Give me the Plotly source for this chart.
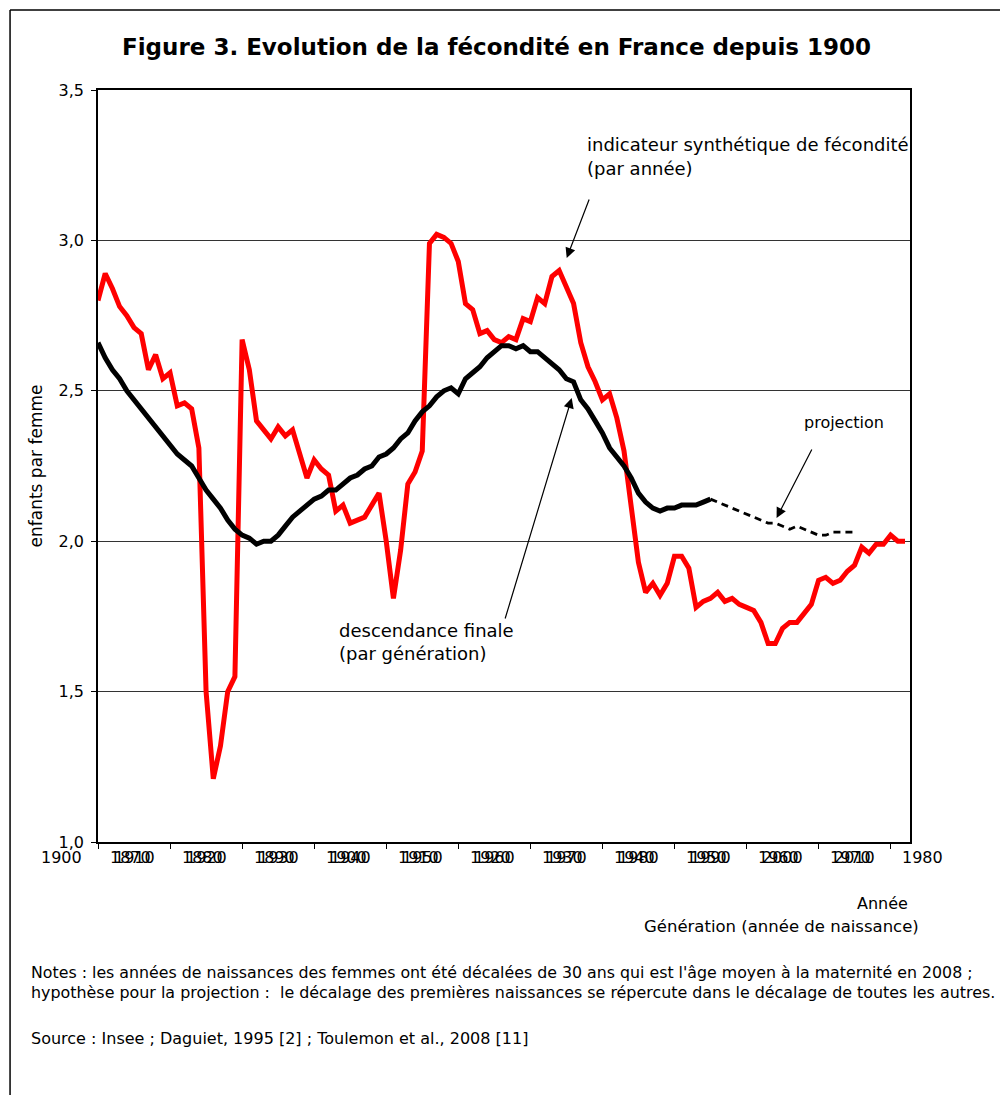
import plotly.graph_objects as go

# ---------------- data ----------------
isf_years = list(range(1900, 2013))
isf_values = [
    2.80, 2.89, 2.84, 2.78, 2.75, 2.71, 2.69, 2.57, 2.62, 2.54,   # 1900-1909
    2.56, 2.45, 2.46, 2.44, 2.31, 1.50, 1.21, 1.32, 1.50, 1.55,   # 1910-1919
    2.67, 2.57, 2.40, 2.37, 2.34, 2.38, 2.35, 2.37, 2.29, 2.21,   # 1920-1929
    2.27, 2.24, 2.22, 2.10, 2.12, 2.06, 2.07, 2.08, 2.12, 2.16,   # 1930-1939
    2.00, 1.81, 1.97, 2.19, 2.23, 2.30, 2.99, 3.02, 3.01, 2.99,   # 1940-1949
    2.93, 2.79, 2.77, 2.69, 2.70, 2.67, 2.66, 2.68, 2.67, 2.74,   # 1950-1959
    2.73, 2.81, 2.79, 2.88, 2.90, 2.84, 2.79, 2.66, 2.58, 2.53,   # 1960-1969
    2.47, 2.49, 2.41, 2.30, 2.11, 1.93, 1.83, 1.86, 1.82, 1.86,   # 1970-1979
    1.95, 1.95, 1.91, 1.78, 1.80, 1.81, 1.83, 1.80, 1.81, 1.79,   # 1980-1989
    1.78, 1.77, 1.73, 1.66, 1.66, 1.71, 1.73, 1.73, 1.76, 1.79,   # 1990-1999
    1.87, 1.88, 1.86, 1.87, 1.90, 1.92, 1.98, 1.96, 1.99, 1.99,   # 2000-2009
    2.02, 2.00, 2.00,                                              # 2010-2012
]

gen_shift = 30  # birth years shifted by 30 years (mean age at maternity)
gen_years = list(range(1870, 1956))
gen_values = [
    2.66, 2.61, 2.57, 2.54, 2.50, 2.47, 2.44, 2.41, 2.38, 2.35,   # 1870-1879
    2.32, 2.29, 2.27, 2.25, 2.21, 2.17, 2.14, 2.11, 2.07, 2.04,   # 1880-1889
    2.02, 2.01, 1.99, 2.00, 2.00, 2.02, 2.05, 2.08, 2.10, 2.12,   # 1890-1899
    2.14, 2.15, 2.17, 2.17, 2.19, 2.21, 2.22, 2.24, 2.25, 2.28,   # 1900-1909
    2.29, 2.31, 2.34, 2.36, 2.40, 2.43, 2.45, 2.48, 2.50, 2.51,   # 1910-1919
    2.49, 2.54, 2.56, 2.58, 2.61, 2.63, 2.65, 2.65, 2.64, 2.65,   # 1920-1929
    2.63, 2.63, 2.61, 2.59, 2.57, 2.54, 2.53, 2.47, 2.44, 2.40,   # 1930-1939
    2.36, 2.31, 2.28, 2.25, 2.21, 2.16, 2.13, 2.11, 2.10, 2.11,   # 1940-1949
    2.11, 2.12, 2.12, 2.12, 2.13, 2.14,                           # 1950-1955
]
proj_years = list(range(1955, 1976))
proj_values = [
    2.14, 2.13, 2.12, 2.11, 2.10, 2.09, 2.08, 2.07, 2.06, 2.06,
    2.05, 2.04, 2.05, 2.04, 2.03, 2.02, 2.02, 2.03, 2.03, 2.03, 2.03,
]

year_labels = list(range(1900, 2020, 10))
gen_labels = list(range(1870, 1990, 10))
y_ticks = [1.0, 1.5, 2.0, 2.5, 3.0, 3.5]

# ---------------- layout geometry ----------------
OFF = 8                      # default page margin of the html body
PAGE_W, PAGE_H = 1008, 1095
W, H = PAGE_W - OFF, PAGE_H - OFF
L, R, T, B = 98, 910.5, 90, 842   # plot area, page pixels
X0 = 1900
X1 = X0 + (R - L) / 7.21           # 7.21 px per year


def px(p):
    return (p - L) / (R - L)


def py(p):
    return (B - p) / (B - T)


def xv(v):
    return (v - X0) / (X1 - X0)


FONT = "DejaVu Sans, Verdana, sans-serif"

fig = go.Figure()
fig.add_trace(go.Scatter(
    x=isf_years, y=isf_values, mode="lines",
    line=dict(color="#ff0000", width=5), hoverinfo="x+y",
))
fig.add_trace(go.Scatter(
    x=[g + gen_shift for g in gen_years], y=gen_values, mode="lines",
    line=dict(color="#000000", width=5), hoverinfo="x+y",
))
fig.add_trace(go.Scatter(
    x=[g + gen_shift for g in proj_years], y=proj_values, mode="lines",
    line=dict(color="#000000", width=2.8, dash="7px,5px"), hoverinfo="x+y",
))

annotations = []
# title
annotations.append(dict(
    text="<b>Figure 3. Evolution de la fécondité en France depuis 1900</b>",
    xref="paper", yref="paper", x=px(497), y=py(47), xanchor="center", yanchor="middle",
    showarrow=False, font=dict(size=23, color="black", family=FONT),
))
# x tick labels (two overlapped Excel category axes: years and generations)
for yv in year_labels:
    annotations.append(dict(
        text=str(yv), xref="paper", yref="paper", x=xv(yv - 5), y=py(858),
        xanchor="center", yanchor="middle", showarrow=False,
        font=dict(size=16, color="black", family=FONT),
    ))
for gv in gen_labels:
    annotations.append(dict(
        text=str(gv), xref="paper", yref="paper", x=xv(gv + gen_shift + 5 - 0.55), y=py(858),
        xanchor="center", yanchor="middle", showarrow=False,
        font=dict(size=16, color="black", family=FONT),
    ))
# axis captions
annotations.append(dict(
    text="Année", xref="paper", yref="paper", x=px(910), y=py(903),
    xanchor="right", yanchor="middle", showarrow=False,
    font=dict(size=16, color="black", family=FONT),
))
annotations.append(dict(
    text="Génération (année de naissance)", xref="paper", yref="paper", x=px(922), y=py(926),
    xanchor="right", yanchor="middle", showarrow=False,
    font=dict(size=16.5, color="black", family=FONT),
))
# series labels
annotations.append(dict(
    text="indicateur synthétique de fécondité", xref="paper", yref="paper",
    x=px(585), y=py(145), xanchor="left", yanchor="middle", showarrow=False,
    font=dict(size=18, color="black", family=FONT),
))
annotations.append(dict(
    text="(par année)", xref="paper", yref="paper",
    x=px(585), y=py(169), xanchor="left", yanchor="middle", showarrow=False,
    font=dict(size=18, color="black", family=FONT),
))
annotations.append(dict(
    text="descendance finale", xref="paper", yref="paper",
    x=px(337), y=py(630), xanchor="left", yanchor="middle", showarrow=False,
    font=dict(size=18, color="black", family=FONT),
))
annotations.append(dict(
    text="(par génération)", xref="paper", yref="paper",
    x=px(337), y=py(653), xanchor="left", yanchor="middle", showarrow=False,
    font=dict(size=18, color="black", family=FONT),
))
annotations.append(dict(
    text="projection", xref="paper", yref="paper",
    x=px(802), y=py(422), xanchor="left", yanchor="middle", showarrow=False,
    font=dict(size=16, color="black", family=FONT),
))
# arrows (head, tail) in page pixels
for (hx, hy, tx, ty) in [(567, 258, 590, 198), (572, 398, 505, 620), (777, 518, 813, 448)]:
    annotations.append(dict(
        text="", xref="paper", yref="paper", x=px(hx), y=py(hy),
        ax=tx - hx, ay=ty - hy, showarrow=True, arrowhead=2, arrowsize=1.7,
        arrowwidth=1.2, arrowcolor="black",
    ))
# notes
notes = [
    ("Notes : les années de naissances des femmes ont été décalées de 30 ans qui est l'âge moyen à la maternité en 2008 ;", 972, 15.8),
    ("hypothèse pour la projection :  le décalage des premières naissances se répercute dans le décalage de toutes les autres.", 992, 15.9),
    ("Source : Insee ; Daguiet, 1995 [2] ; Toulemon et al., 2008 [11]", 1038, 16),
]
for txt, yy, fs in notes:
    annotations.append(dict(
        text=txt, xref="paper", yref="paper", x=px(29), y=py(yy),
        xanchor="left", yanchor="middle", showarrow=False,
        font=dict(size=fs, color="black", family=FONT),
    ))

shapes = [
    # outer frame (left and top edges)
    dict(type="line", xref="paper", yref="paper", x0=px(10), y0=py(10), x1=px(10), y1=py(1110),
         line=dict(color="black", width=1.5)),
    dict(type="line", xref="paper", yref="paper", x0=px(10), y0=py(10), x1=px(1020), y1=py(10),
         line=dict(color="black", width=1.5)),
]

fig.update_layout(
    width=W, height=H,
    margin=dict(l=L - OFF, r=PAGE_W - R, t=T - OFF, b=PAGE_H - B),
    paper_bgcolor="white", plot_bgcolor="white",
    showlegend=False,
    separators=", ",
    font=dict(family=FONT, color="black"),
    annotations=annotations,
    shapes=shapes,
    xaxis=dict(
        range=[X0, X1], showgrid=False, zeroline=False,
        showline=True, linecolor="black", linewidth=1.5, mirror=True,
        tickvals=list(range(1900, 2020, 10)), showticklabels=False,
        ticks="outside", ticklen=5, tickcolor="black", tickwidth=1,
    ),
    yaxis=dict(
        range=[1.0, 3.5], tickvals=y_ticks, tickformat=".1f",
        showgrid=True, gridcolor="#333333", gridwidth=1.2, zeroline=False,
        showline=True, linecolor="black", linewidth=1.5, mirror=True,
        ticks="outside", ticklen=5, tickcolor="black", tickwidth=1,
        tickfont=dict(size=16, family=FONT), ticklabelstandoff=4,
        title=dict(text="enfants par femme", font=dict(size=17, family=FONT), standoff=12),
    ),
)

fig.write_html("out.html")
